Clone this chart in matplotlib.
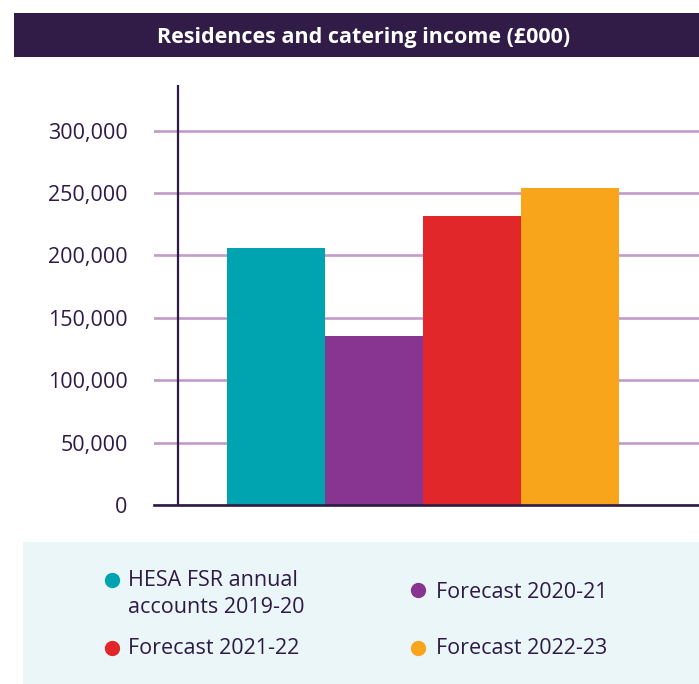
import matplotlib
matplotlib.use("Agg")
import matplotlib.pyplot as plt
from matplotlib.patches import Rectangle
from matplotlib.lines import Line2D
from matplotlib.ticker import FuncFormatter

title = "Residences and catering income (£000)"
series = ["HESA FSR annual\naccounts 2019-20", "Forecast 2020-21",
          "Forecast 2021-22", "Forecast 2022-23"]
values = [206000, 135500, 231500, 254000]
colors = ["#00a3b0", "#873591", "#e1272a", "#f8a51c"]
yticks = [0, 50000, 100000, 150000, 200000, 250000, 300000]

W, H = 699, 684
DARK = "#2e1a47"
GRID = "#c39bcb"

fig = plt.figure(figsize=(W / 100, H / 100), dpi=100)
fig.patch.set_facecolor("white")

def fx(px):
    return px / W

def fy(py):
    return 1 - py / H

# title bar
fig.patches.append(Rectangle((fx(14), fy(57)), fx(699 - 14), (57 - 13) / H,
                             transform=fig.transFigure, facecolor="#301c46",
                             edgecolor="none", zorder=0))
fig.text(fx(364), fy(37), title, color="white", fontsize=15.5, fontweight="bold",
         family="Open Sans", ha="center", va="center")

# legend box
fig.patches.append(Rectangle((fx(23), 0), fx(699 - 23), (684 - 542) / H,
                             transform=fig.transFigure, facecolor="#eaf6f7",
                             edgecolor="none", zorder=0))

ax = fig.add_axes([fx(154), fy(505), 1 - fx(154), (505 - 85) / H])
x = list(range(len(values)))
ax.bar(x, values, width=1.0, color=colors, zorder=3)
ax.set_xlim(-1.245, 4.316)
ax.set_ylim(0, 336500)
ax.set_yticks(yticks)
ax.yaxis.set_major_formatter(FuncFormatter(lambda v, p: f"{int(v):,}"))
ax.set_xticks([])
ax.grid(axis="y", color=GRID, linewidth=1.9, zorder=0)
ax.set_axisbelow(True)
for s in ["top", "right", "left"]:
    ax.spines[s].set_visible(False)
ax.spines["bottom"].set_color(DARK)
ax.spines["bottom"].set_linewidth(1.9)
ax.spines["bottom"].set_zorder(4)
ax.axvline(-1.0, color=DARK, linewidth=1.6, zorder=4)
ax.tick_params(axis="y", length=0, pad=19, labelsize=15.5, labelcolor=DARK)
for lab in ax.get_yticklabels():
    lab.set_family("Open Sans")
ax.patch.set_alpha(0)

# legend entries
pos = [(112, 580, 128, 594), (418, 590, 436, 593), (112, 648, 128, 649), (418, 648, 436, 649)]
for (mx, my, tx, ty), lab, c in zip(pos, series, colors):
    fig.add_artist(Line2D([fx(mx)], [fy(my)], marker="o", markersize=10,
                          color=c, linestyle="none", transform=fig.transFigure))
    fig.text(fx(tx), fy(ty), lab, color=DARK, fontsize=15.5, family="Open Sans",
             ha="left", va="center", linespacing=1.35)

fig.savefig("out.png", dpi=100)
